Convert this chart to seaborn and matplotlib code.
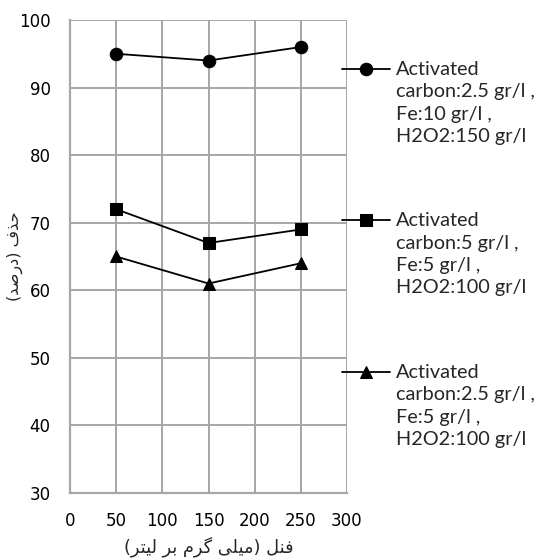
import numpy as np
import pandas as pd
import matplotlib
matplotlib.use("Agg")
import matplotlib.pyplot as plt
import seaborn as sns
from matplotlib.lines import Line2D
from matplotlib.legend_handler import HandlerLine2D

# data
phenol = [50, 150, 250]
removal_a = [95, 94, 96]
removal_b = [72, 67, 69]
removal_c = [65, 61, 64]
series_labels = [
    "Activated\ncarbon:2.5 gr/l ,\nFe:10 gr/l ,\nH2O2:150 gr/l",
    "Activated\ncarbon:5 gr/l ,\nFe:5 gr/l ,\nH2O2:100 gr/l",
    "Activated\ncarbon:2.5 gr/l ,\nFe:5 gr/l ,\nH2O2:100 gr/l",
]
x_ticks = [0, 50, 100, 150, 200, 250, 300]
y_ticks = [30, 40, 50, 60, 70, 80, 90, 100]

# Persian axis titles, written in shaped (presentation) forms in display order
ylabel_fa = "(\uFEAA\uFEBB\uFEAD\uFEA9) \uFED1\uFEAC\uFEA3"  # حذف (درصد)
xlabel_fa = ("(\uFEAE\uFE98\uFEF4\uFEDF \uFEAE\uFE91 \uFEE1\uFEAE\uFB94 "
             "\uFEF0\uFEE0\uFEF4\uFEE3) \uFEDE\uFEE8\uFED3")  # فنل (میلی گرم بر لیتر)

df = pd.DataFrame({
    "phenol": phenol * 3,
    "removal": removal_a + removal_b + removal_c,
    "series": [series_labels[0]] * 3 + [series_labels[1]] * 3 + [series_labels[2]] * 3,
})

LINE_GAP = 22.7 * 72 / 100  # legend text line step, in points


class TopHandler(HandlerLine2D):
    # put the legend marker next to the first line of a multi-line label
    def create_artists(self, legend, orig_handle, xdescent, ydescent, width, height, fontsize, trans):
        arts = super().create_artists(legend, orig_handle, xdescent, ydescent, width, height, fontsize, trans)
        for a in arts:
            a.set_ydata(np.asarray(a.get_ydata()) + 1.5 * LINE_GAP)
        return arts


sns.set_style("white")
plt.rcParams["font.family"] = ["DejaVu Sans"]

fig = plt.figure(figsize=(5.39, 5.6), dpi=100)
ax = fig.add_axes([70 / 539, 1 - 493 / 560, 277 / 539, 473 / 560])

sns.lineplot(data=df, x="phenol", y="removal", hue="series", style="series",
             palette=["black"] * 3, markers=["o", "s", "^"], dashes=False,
             markersize=9, linewidth=1.3, markeredgecolor="black", ax=ax)

ax.set_xlim(0, 300)
ax.set_ylim(30, 100)
ax.set_xticks(x_ticks)
ax.set_yticks(y_ticks)
ax.grid(True, color="#A6A6A6", linewidth=1.4)
ax.set_axisbelow(True)
for s in ax.spines.values():
    s.set_visible(False)
for s in ["left", "bottom"]:
    ax.spines[s].set_visible(True)
    ax.spines[s].set_color("#A6A6A6")
    ax.spines[s].set_linewidth(1.6)
ax.tick_params(length=0, labelsize=12, pad=14, colors="black")

ax.set_xlabel(xlabel_fa, fontsize=12.8, family=["DejaVu Sans"], labelpad=4)
ax.set_ylabel(ylabel_fa, fontsize=11.5, family=["DejaVu Sans"], va="center")
ax.yaxis.set_label_coords(-0.2, 0.5)

handles, labels = ax.get_legend_handles_labels()
ax.get_legend().remove()
leg = fig.legend(handles, labels, loc="upper left", bbox_to_anchor=(342 / 539, 1 - 61 / 560),
                 frameon=False, borderpad=0, borderaxespad=0, handlelength=2.4,
                 handletextpad=0.3, labelspacing=3.4, prop={"family": "Lato", "size": 14.3},
                 handler_map={Line2D: TopHandler()})
for t in leg.get_texts():
    t.set_linespacing(1.38)

fig.savefig("out.png", dpi=100)
